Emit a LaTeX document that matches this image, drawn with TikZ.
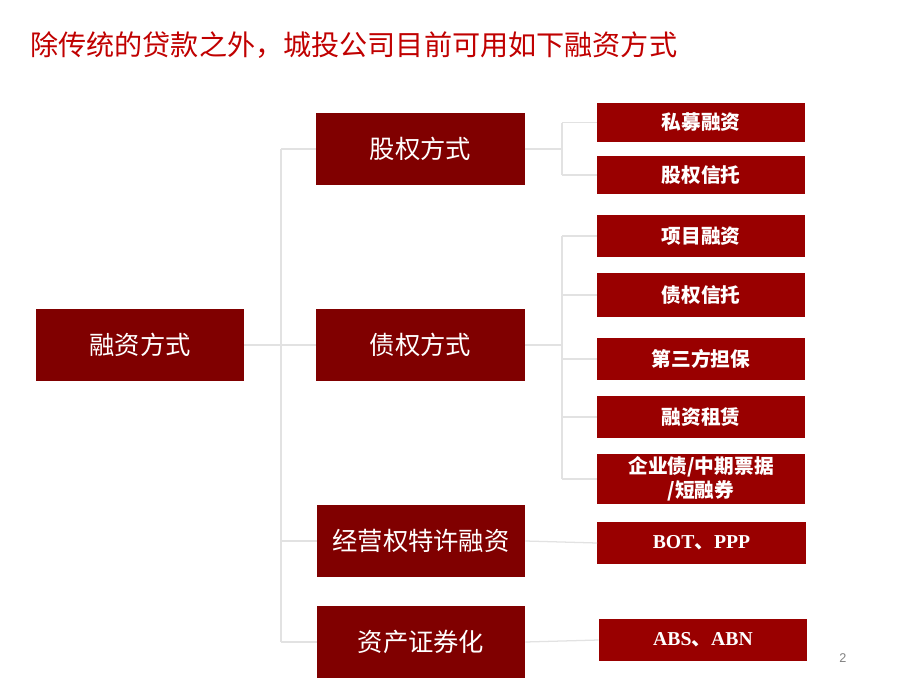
\documentclass[tikz,border=0pt]{standalone}
\usepackage{fontspec}
\setmainfont{Liberation Serif}
\newfontfamily\cjk{Noto Sans CJK SC}
\newfontfamily\sansf{Liberation Sans}
\usepackage{tikz}
\usetikzlibrary{calc,positioning}

\definecolor{boxdark}{RGB}{128,0,0}
\definecolor{boxred}{RGB}{153,0,0}
\definecolor{titlered}{RGB}{192,0,0}
\definecolor{linkgray}{RGB}{226,226,226}

\newcommand{\lat}[1]{{\rmfamily\bfseries #1}}

\begin{document}
\begin{tikzpicture}[x=0.025cm, y=-0.025cm,
mainbox/.style={rectangle, fill=boxdark, text=white, text centered, minimum width=5.2cm, minimum height=1.8cm, inner sep=0pt, font=\cjk\fontsize{18}{22}\selectfont},
subbox/.style={rectangle, fill=boxred, text=white, text centered, minimum width=5.2cm, inner sep=0pt, font=\cjk\bfseries\fontsize{14}{18}\selectfont},
link/.style={draw=linkgray, line width=0.9pt},
nodes = {align = center}
]
\useasboundingbox (0,0) rectangle (920,690);

%Title
\node[anchor=west, text=titlered, inner sep=0pt, font=\cjk\fontsize{20}{24}\selectfont] (title) at (30,45)
{除传统的贷款之外，城投公司目前可用如下融资方式};

%Nodes
\node[mainbox]   (root)    at (140,345) {融资方式};
\node[mainbox]   (equity)  at (420.5,149) {股权方式};
\node[mainbox]   (debt)    at (420.5,345) {债权方式};
\node[mainbox]   (conc)    at (421,541) {经营权特许融资};
\node[mainbox]   (secur)   at (421,642) {资产证券化};

\node[subbox, minimum height=0.975cm] (private) at (701,122.5) {私募融资};
\node[subbox, minimum height=0.95cm]  (eqtrust) at (701,175) {股权信托};
\node[subbox, minimum height=1.05cm]  (project) at (701,236) {项目融资};
\node[subbox, minimum height=1.1cm]   (dbtrust) at (701,295) {债权信托};
\node[subbox, minimum height=1.05cm]  (guarant) at (701,359) {第三方担保};
\node[subbox, minimum height=1.05cm]  (leasing) at (701,417) {融资租赁};
\node[subbox, minimum height=1.25cm, font=\cjk\bfseries\fontsize{14}{17}\selectfont] (bonds) at (701,479) {企业债/中期票据\\/短融券};
\node[subbox, minimum height=1.05cm]  (bot)     at (701.5,543) {\lat{BOT}、\lat{PPP}};
\node[subbox, minimum height=1.05cm]  (absn)    at (703,640) {\lat{ABS}、\lat{ABN}};

\node[text=gray, font=\sansf\fontsize{9}{11}\selectfont] (pageno) at (843,658) {2};

%Lines
\coordinate (trunk) at (281,345);
\coordinate (eqfork) at (562,149);
\coordinate (dbfork) at (562,345);

\draw[link] (root.east) -- (trunk);
\draw[link] (trunk |- equity.west) -- (trunk |- secur.west);
\foreach \n in {equity,debt,conc,secur}
  \draw[link] (trunk |- \n.west) -- (\n.west);

\draw[link] (equity.east) -- (eqfork);
\draw[link] (eqfork |- private.west) -- (eqfork |- eqtrust.west);
\foreach \n in {private,eqtrust}
  \draw[link] (eqfork |- \n.west) -- (\n.west);

\draw[link] (debt.east) -- (dbfork);
\draw[link] (dbfork |- project.west) -- (dbfork |- bonds.west);
\foreach \n in {project,dbtrust,guarant,leasing,bonds}
  \draw[link] (dbfork |- \n.west) -- (\n.west);

\draw[link] (conc.east) -- (bot.west);
\draw[link] (secur.east) -- (absn.west);

\end{tikzpicture}
\end{document}
